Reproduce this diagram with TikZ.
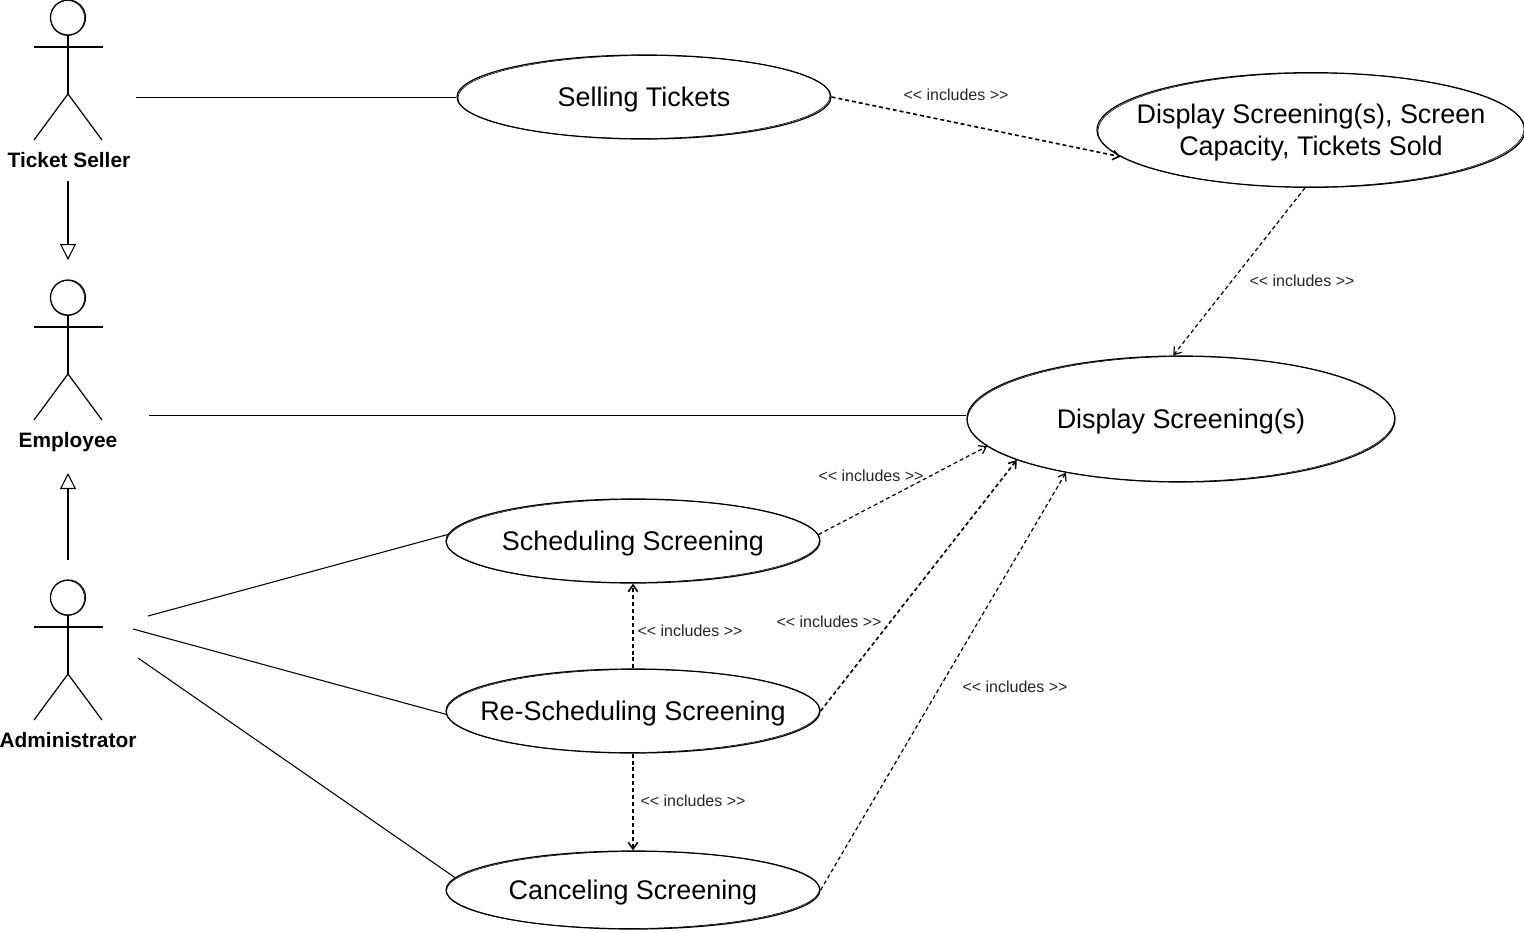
\documentclass[tikz,border=0pt]{standalone}
\usepackage{fontspec}
\setmainfont{Liberation Sans}
\usetikzlibrary{arrows.meta,shapes.geometric}
\tikzset{
  usecase/.style={draw,ellipse,inner xsep=-60pt,inner ysep=-20pt,text depth=0pt,line width=0.9pt,align=center,
    font=\fontsize{20.2}{24}\selectfont},
  inclabel/.style={font=\fontsize{12}{14}\selectfont,text=black!85},
  actorlabel/.style={text depth=0pt,font=\fontsize{15.65}{18}\selectfont\bfseries},
  assoc/.style={line width=0.8pt},
  incl/.style={line width=0.9pt,dash pattern=on 3pt off 2.2pt,-{Straight Barb[length=5pt,width=7pt]}},
  inclheavy/.style={incl,line width=1.2pt},
  gener/.style={line width=0.8pt,-{Triangle[open,length=12pt,width=12pt]}},
  sketch/.style={line width=0.45pt},
}
\begin{document}
\begin{tikzpicture}[x=0.75pt,y=-0.75pt]
  \useasboundingbox (0,0) rectangle (1524,932);
  % actors
  \foreach \name/\off/\txt/\lx in {seller/0/Ticket Seller/69,employee/280/Employee/68,admin/580/Administrator/68}{
    \draw[line width=0.9pt] (68,17.5+\off) circle [radius=17.5];
    \draw[sketch] (67.5,18+\off) circle [x radius=17,y radius=17.5];
    \draw[line width=0.9pt] (68,35+\off) -- (68,94+\off);
    \draw[line width=0.9pt] (34,47+\off) -- (103,47+\off);
    \draw[line width=0.9pt] (34,140+\off) -- (68,94+\off) -- (102,140+\off);
    \node[actorlabel] (\name) at (\lx,160+\off) {\txt};
  }
  % use cases
  \node[usecase,minimum width=280.5pt,minimum height=63pt] (sell) at (644,97) {Selling Tickets};
  \node[usecase,minimum width=321pt,minimum height=86pt] (cap) at (1311,130) {Display Screening(s), Screen\\Capacity, Tickets Sold};
  \node[usecase,minimum width=321pt,minimum height=94.5pt] (disp) at (1181,419) {Display Screening(s)};
  \node[usecase,minimum width=280.5pt,minimum height=63pt] (sched) at (633,541) {Scheduling Screening};
  \node[usecase,minimum width=280.5pt,minimum height=63pt] (resched) at (633,711) {Re-Scheduling Screening};
  \node[usecase,minimum width=280.5pt,minimum height=58.5pt] (cancel) at (633,890) {Canceling Screening};
  % second pen stroke round the use cases
  \foreach \uc/\rx/\ry in {sell/186/41.5,cap/213/57,disp/213.5/62.5,sched/186.5/41.5,resched/186.5/41.5,cancel/186.5/38.5}{
    \draw[sketch,rotate around={0.3:(\uc.center)}] (\uc.center) ellipse [x radius=\rx,y radius=\ry];
  }
  % free ends
  \coordinate (sellerout) at (136,97.5);
  \coordinate (emplout) at (149,415.5);
  \coordinate (adminA) at (148,616);
  \coordinate (adminB) at (133,629);
  \coordinate (adminC) at (138,658);
  \coordinate (sellerdown) at (68,181);
  \coordinate (emplabove) at (68,260);
  \coordinate (adminup) at (68,560);
  \coordinate (emplbelow) at (68,473);
  % associations
  \draw[assoc] (sellerout) -- (sell.west |- sellerout);
  \draw[assoc] (emplout) -- (disp.west |- emplout);
  \draw[assoc] (adminA) -- (sched.178.5);
  \draw[assoc] (adminB) -- (resched.181);
  \draw[assoc] (adminC) -- (cancel.176.1);
  % generalisation
  \draw[gener] (sellerdown) -- (emplabove);
  \draw[gener] (adminup) -- (emplbelow);
  % includes
  \draw[inclheavy] (sell.east) -- (cap.188.6);
  \draw[incl] (cap.264) -- (disp.97.5);
  \draw[incl] (sched.2.5) -- (disp.188);
  \draw[inclheavy] (resched.east) -- (disp.194.2);
  \draw[incl] (cancel.east) -- (disp.205.8);
  \draw[inclheavy] (resched.north) -- (sched.south);
  \draw[inclheavy] (resched.south) -- (cancel.north);
  \node[inclabel] (lblA) at (956,95) {<{}< includes >{}>};
  \node[inclabel] (lblB) at (1302,281) {<{}< includes >{}>};
  \node[inclabel] (lblC) at (871,476) {<{}< includes >{}>};
  \node[inclabel] (lblD) at (829,622) {<{}< includes >{}>};
  \node[inclabel] (lblE) at (690,631) {<{}< includes >{}>};
  \node[inclabel] (lblF) at (693,801) {<{}< includes >{}>};
  \node[inclabel] (lblG) at (1015,687) {<{}< includes >{}>};
\end{tikzpicture}
\end{document}
